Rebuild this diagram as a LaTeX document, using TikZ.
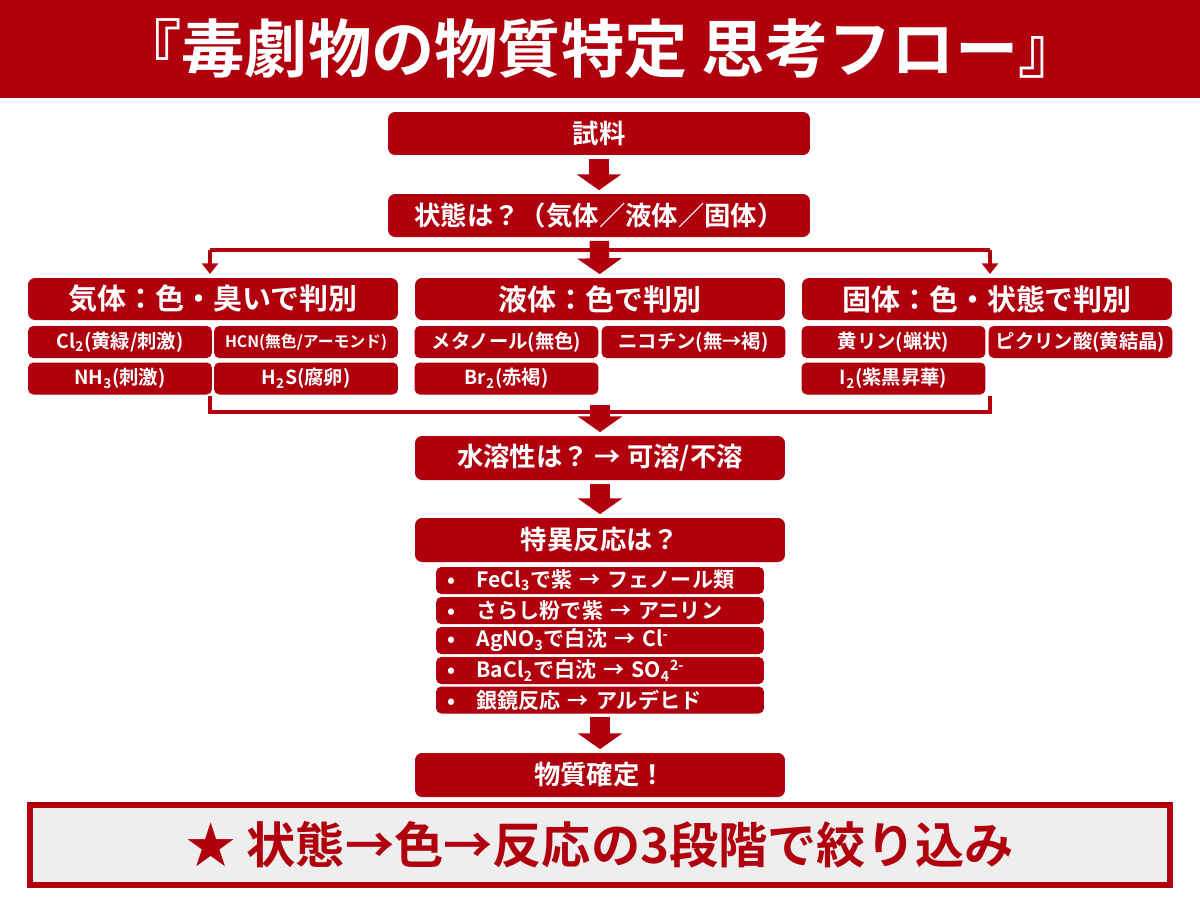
\documentclass[tikz,border=0pt]{standalone}
\usepackage{fontspec}
\setmainfont{Noto Sans CJK JP}[BoldFont={Noto Sans CJK JP Bold}]
\usetikzlibrary{arrows.meta,positioning}
\definecolor{dred}{HTML}{B0000E}
\definecolor{pale}{HTML}{EEEEEE}

\begin{document}
\begin{tikzpicture}[x=0.02cm,y=-0.02cm,font=\bfseries]
  \tikzstyle{redbox}=[rectangle, rounded corners=4pt, fill=dred, text=white, inner sep=0pt]
  \tikzstyle{main}=[redbox, minimum width=8.44cm, minimum height=0.86cm, font=\fontsize{15}{17}\bfseries]
  \tikzstyle{mid}=[redbox, minimum width=7.4cm, minimum height=0.88cm, font=\fontsize{15}{17}\bfseries]
  \tikzstyle{cat}=[redbox, minimum width=7.4cm, minimum height=0.84cm, font=\fontsize{16.5}{18}\bfseries]
  \tikzstyle{item}=[redbox, rounded corners=3pt, minimum width=3.68cm, minimum height=0.64cm, font=\fontsize{11}{12}\bfseries]
  \tikzstyle{react}=[redbox, rounded corners=3pt, minimum width=6.56cm, minimum height=0.54cm, text width=6.1cm, align=left, font=\fontsize{12}{13}\bfseries]
  \tikzstyle{fat}=[dred, line width=11pt, -{Triangle[width=25pt,length=9pt]}, shorten <=2pt, shorten >=2pt]
  \tikzstyle{thin}=[dred, line width=2.4pt]
  \newcommand{\sub}[1]{\textsubscript{#1}}
  \newcommand{\sups}[1]{\textsuperscript{#1}}

  \useasboundingbox (0,0) rectangle (1200,896);
  \fill[white] (0,0) rectangle (1200,896);

  % Titel
  \fill[dred] (0,0) rectangle (1200,98);
  \node[text=white, font=\fontsize{36}{40}\bfseries] (title) at (600,49) {『毒劇物の物質特定 思考フロー』};

  % Ablauf oben
  \node[main] (sample) at (599,133.5) {試料};
  \node[main] (state) at (599,215.5) {状態は？（気体／液体／固体）};
  \draw[fat] (sample) -- (state);

  % Kategorien
  \node[cat] (gas) at (213,299) {気体：色・臭いで判別};
  \node[cat] (liquid) at (600,299) {液体：色で判別};
  \node[cat] (solid) at (987,299) {固体：色・状態で判別};
  \draw[thin] (210,250) coordinate (sl) -- (990,250) coordinate (sr);
  \draw[thin, -{Triangle[width=9pt,length=6pt]}] (sl) -- (210,274);
  \draw[thin, -{Triangle[width=9pt,length=6pt]}] (sr) -- (990,274);
  \draw[fat] (state) -- (liquid);

  % Beispiele
  \node[item] (cl) at (120,342) {Cl\sub{2}(黄緑/刺激)};
  \node[item, font=\fontsize{9}{10}\bfseries] (hcn) at (306,342) {HCN(無色/アーモンド)};
  \node[item] (meoh) at (506.5,342) {メタノール(無色)};
  \node[item] (nic) at (693.5,342) {ニコチン(無→褐)};
  \node[item] (p4) at (893.5,342) {黄リン(蝋状)};
  \node[item] (pic) at (1080.5,342) {ピクリン酸(黄結晶)};
  \node[item] (nh3) at (120,378.5) {NH\sub{3}(刺激)};
  \node[item] (h2s) at (306,378.5) {H\sub{2}S(腐卵)};
  \node[item] (br2) at (506.5,378.5) {Br\sub{2}(赤褐)};
  \node[item] (i2) at (893.5,378.5) {I\sub{2}(紫黒昇華)};

  % Zusammenfuehrung
  \draw[thin] (210,396) -- (210,412) -- (990,412) -- (990,396);
  \node[mid] (water) at (600,458) {水溶性は？ → 可溶/不溶};
  \coordinate (join) at (600,401);
  \draw[fat] (join) -- (water);

  % Reaktionen
  \node[mid] (react) at (600,540) {特異反応は？};
  \draw[fat] (water) -- (react);
  \node[react] (r1) at (600,580.5) {•\quad FeCl\sub{3}で紫 → フェノール類};
  \node[react] (r2) at (600,610.5) {•\quad さらし粉で紫 → アニリン};
  \node[react] (r3) at (600,640.5) {•\quad AgNO\sub{3}で白沈 → Cl\sups{-}};
  \node[react] (r4) at (600,670.5) {•\quad BaCl\sub{2}で白沈 → SO\sub{4}\sups{2-}};
  \node[react] (r5) at (600,700) {•\quad 銀鏡反応 → アルデヒド};

  \node[mid] (done) at (600,775) {物質確定！};
  \draw[fat] (r5) -- (done);

  % Merksatz
  \node[rectangle, draw=dred, line width=3pt, fill=pale, minimum width=22.8cm, minimum height=1.6cm,
        text=dred, font=\fontsize{28}{31}\bfseries] (memo) at (600,845) {★ 状態→色→反応の3段階で絞り込み};
\end{tikzpicture}
\end{document}
